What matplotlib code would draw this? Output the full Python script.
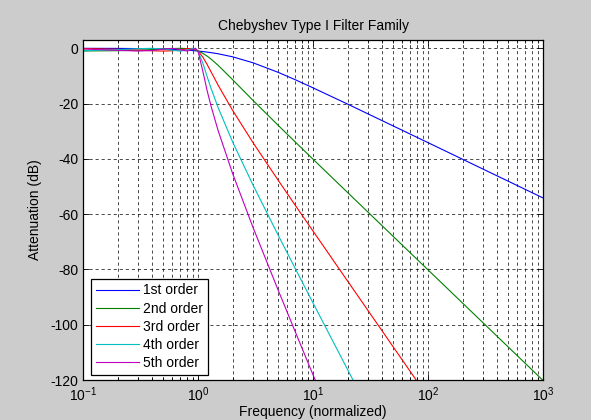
import matplotlib
matplotlib.use("Agg")
import matplotlib.pyplot as plt
from matplotlib.ticker import LogLocator, NullFormatter

plt.rcParams['font.family'] = ['Liberation Sans', 'DejaVu Sans']
plt.rcParams['mathtext.fontset'] = 'custom'
plt.rcParams['mathtext.rm'] = 'Liberation Sans'
plt.rcParams['mathtext.it'] = 'Liberation Sans'
plt.rcParams['axes.unicode_minus'] = False

# Normalized frequency samples
freq = [0.1, 0.2, 0.3, 0.4, 0.5, 0.6, 0.7, 0.8, 0.9, 0.95, 1.0,
        1.1, 1.2, 1.3, 1.5, 2, 3, 5, 7, 10, 20, 50, 100, 200, 500, 1000]

# Attenuation in dB for each filter order
order1 = [-0.01, -0.04, -0.10, -0.18, -0.27, -0.39, -0.52, -0.67, -0.83, -0.91, -1.00,
          -1.18, -1.38, -1.58, -1.99, -3.09, -5.22, -8.73, -11.36, -14.30, -20.19,
          -28.12, -34.13, -40.15, -48.11, -54.13]
order2 = [-0.97, -0.86, -0.70, -0.49, -0.27, -0.09, 0.00, -0.09, -0.41, -0.67, -1.00,
          -1.82, -2.82, -3.92, -6.20, -11.36, -18.80, -27.94, -33.87, -40.11, -52.18,
          -68.11, -80.15, -92.19, -108.11, -120.15]
order3 = [-0.10, -0.35, -0.65, -0.90, -1.00, -0.89, -0.56, -0.14, -0.05, -0.36, -1.00,
          -3.14, -5.84, -8.56, -13.42, -22.46, -34.05, -47.85, -56.75, -66.11, -84.22,
          -108.11, -126.17, -144.2, -168.1, -186.2]
order4 = [-0.86, -0.51, -0.13, -0.01, -0.27, -0.73, -1.00, -0.73, -0.06, -0.10, -1.00,
          -5.29, -10.23, -14.57, -21.58, -33.87, -49.35, -67.76, -79.62, -92.11, -116.25,
          -148.1, -172.2, -196.3, -228.1, -252.2]
order5 = [-0.25, -0.74, -1.00, -0.80, -0.27, -0.01, -0.48, -0.99, -0.43, 0.00, -1.00,
          -8.19, -15.29, -21.00, -29.91, -45.31, -64.67, -87.67, -102.50, -118.1, -148.3,
          -188.1, -218.2, -248.3, -288.1, -318.2]

labels = ['1st order', '2nd order', '3rd order', '4th order', '5th order']
colors = ['#0000ff', '#008000', '#ff0000', '#00bfbf', '#bf00bf']
series = [order1, order2, order3, order4, order5]

yticks = [-120, -100, -80, -60, -40, -20, 0]
xticks = [0.1, 1, 10, 100, 1000]
xticklabels = [r'$10^{-1}$', r'$10^{0}$', r'$10^{1}$', r'$10^{2}$', r'$10^{3}$']

fig = plt.figure(figsize=(5.91, 4.20), dpi=100, facecolor='#cccccc')
ax = fig.add_axes([83/591, 1-380/420, 460/591, 340/420])
ax.set_facecolor('white')

for s, lab, c in zip(series, labels, colors):
    ax.semilogx(freq, s, color=c, lw=0.8, label=lab)

ax.set_xlim(0.1, 1000)
ax.set_ylim(-120, 3)
ax.set_xticks(xticks)
ax.set_xticklabels(xticklabels)
ax.xaxis.set_minor_locator(LogLocator(base=10, subs=range(2, 10), numticks=20))
ax.xaxis.set_minor_formatter(NullFormatter())
ax.set_yticks(yticks)
ax.set_yticklabels([str(v) for v in yticks])

dash = (0, (4.5, 4.2))
ax.grid(True, which='major', axis='both', color='black', lw=0.5, linestyle=dash)
ax.grid(True, which='minor', axis='x', color='black', lw=0.5, linestyle=dash)
ax.set_axisbelow(True)

ax.tick_params(which='both', direction='in', top=True, right=True, labelsize=10,
               colors='black', width=0.6)
ax.tick_params(which='major', length=4)
ax.tick_params(which='minor', length=2.5)
ax.tick_params(axis='x', which='major', pad=4)
for sp in ax.spines.values():
    sp.set_linewidth(0.9)
    sp.set_color('black')

ax.set_title('Chebyshev Type I Filter Family', fontsize=10, pad=7)
ax.set_xlabel('Frequency (normalized)', fontsize=10)
ax.xaxis.set_label_coords(0.5, (380 - 405) / 340)
ax.set_ylabel('Attenuation (dB)', fontsize=10, labelpad=6)

leg = ax.legend(loc='lower left', bbox_to_anchor=(0.0167, 0.0147), borderaxespad=0,
                fancybox=False, edgecolor='black', framealpha=1, fontsize=10,
                handlelength=3.1, handletextpad=0.3, labelspacing=0.3, borderpad=0.35)
leg.get_frame().set_linewidth(0.9)

fig.savefig('out.png', dpi=100, facecolor=fig.get_facecolor())
